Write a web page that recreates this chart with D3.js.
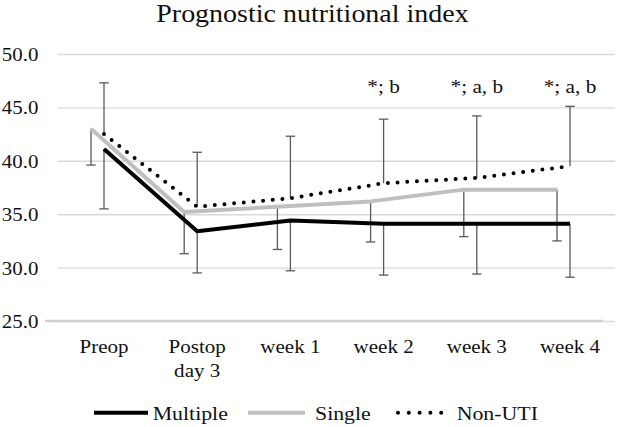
<!DOCTYPE html>
<html>
<head>
<meta charset="utf-8">
<script src="https://cdn.jsdelivr.net/npm/d3@7/dist/d3.min.js"></script>
<style>
  html, body { margin: 0; padding: 0; background: #fff; }
  svg { display: block; }
  svg text { font-family: "Liberation Serif", "Times New Roman", Times, "DejaVu Serif", serif !important; fill: #111; }
</style>
</head>
<body>
<svg id="chart" width="620" height="427"></svg>
<script>
// ---- Data ----
const categories = ["Preop", "Postop|day 3", "week 1", "week 2", "week 3", "week 4"];
const multipleMean = [41.1, 33.4, 34.4, 34.1, 34.1, 34.1];
const multipleSD   = [5.6, 3.9, 4.7, 4.8, 4.7, 5.0];
const singleMean   = [43.0, 35.2, 35.7, 36.2, 37.3, 37.3];
const singleSD     = [3.4, 3.9, 4.0, 3.8, 4.4, 4.8];
const nonUtiMean   = [42.5, 35.7, 36.5, 37.9, 38.4, 39.5];
const nonUtiSD     = [4.8, 5.1, 5.8, 6.0, 5.8, 5.6];
const annotations  = ["", "", "", "*; b", "*; a, b", "*; a, b"];
const yTicks       = [25, 30, 35, 40, 45, 50];
const seriesNames  = ["Multiple", "Single", "Non-UTI"];
const title        = "Prognostic nutritional index";

// ---- Layout ----
const FONT = '"Liberation Serif", "Times New Roman", Times, "DejaVu Serif", serif';
const svg = d3.select("#chart");
const SX = 1.12; // horizontal stretch of the source image
const plotLeft = 57.4, plotRight = 616.6, plotTop = 54, plotBottom = 321;

const x = d3.scaleBand().domain(categories).range([plotLeft, plotRight]);
const y = d3.scaleLinear().domain([25, 50]).range([plotBottom, plotTop]);
const cx = c => x(c) + x.bandwidth() / 2;
const singleOffset = -13;

function stretchedText(sel, px, py, str, size, anchor) {
  return sel.append("text")
    .attr("transform", `translate(${px},${py}) scale(${SX},1)`)
    .attr("text-anchor", anchor || "middle")
    .attr("font-family", FONT)
    .style("font-size", size + "px")
    .text(str);
}

// Title
stretchedText(svg, 312.5, 22, title, 25, "middle");

// Y axis grid
const yAxis = d3.axisLeft(y).tickValues(yTicks).tickFormat(d3.format(".1f"))
  .tickSizeInner(-(plotRight - plotLeft - 1.5)).tickSizeOuter(0).tickPadding(19);
const gy = svg.append("g").attr("transform", `translate(${plotLeft},0)`).call(yAxis)
  .attr("font-family", FONT);
gy.select(".domain").remove();
gy.selectAll(".tick line").attr("stroke", "#d9d9d9").attr("stroke-width", 1.4);
gy.selectAll(".tick text")
  .attr("x", null).attr("dy", null)
  .attr("transform", `translate(-19,6.5) scale(${SX},1)`)
  .attr("text-anchor", "end")
  .style("font-size", "18.7px").attr("fill", "#111");

// X axis line (thicker, at 25)
svg.append("line")
  .attr("x1", 45).attr("x2", 603)
  .attr("y1", y(25)).attr("y2", y(25))
  .attr("stroke", "#d0d0d0").attr("stroke-width", 2.4);

// X axis labels
const xAxis = d3.axisBottom(x).tickSize(0).tickFormat("");
const gx = svg.append("g").attr("transform", `translate(0,${plotBottom})`).call(xAxis)
  .attr("font-family", FONT);
gx.select(".domain").remove();
gx.selectAll(".tick").each(function(d) {
  const lines = d.split("|");
  const t = d3.select(this).append("text")
    .attr("transform", `translate(0,32) scale(${SX},1)`)
    .attr("text-anchor", "middle")
    .style("font-size", "18.8px").attr("fill", "#111");
  lines.forEach((l, i) => t.append("tspan").attr("x", 0).attr("dy", i === 0 ? 0 : 24).text(l));
});

// Error bars
const errColor = "#5a5a5a";
const cap = 4.7;
function errorBars(means, sds, offset, dir) {
  const g = svg.append("g");
  categories.forEach((c, i) => {
    const px = cx(c) + offset;
    const y0 = y(means[i]);
    const y1 = y(means[i] + dir * sds[i]);
    g.append("line").attr("x1", px).attr("x2", px).attr("y1", y0).attr("y2", y1)
      .attr("stroke", errColor).attr("stroke-width", 1.3);
    g.append("line").attr("x1", px - cap).attr("x2", px + cap).attr("y1", y1).attr("y2", y1)
      .attr("stroke", errColor).attr("stroke-width", 1.3);
  });
}
errorBars(singleMean, singleSD, singleOffset, -1);
errorBars(multipleMean, multipleSD, 0, -1);
errorBars(nonUtiMean, nonUtiSD, 0, 1);

// Lines
const line = off => d3.line().x((d, i) => cx(categories[i]) + off).y(d => y(d));
svg.append("path").datum(singleMean).attr("d", line(singleOffset))
  .attr("fill", "none").attr("stroke", "#bfbfbf").attr("stroke-width", 4)
  .attr("stroke-linejoin", "round");
svg.append("path").datum(multipleMean).attr("d", line(0))
  .attr("fill", "none").attr("stroke", "#000").attr("stroke-width", 4)
  .attr("stroke-linejoin", "round");
svg.append("path").datum(nonUtiMean).attr("d", line(0))
  .attr("fill", "none").attr("stroke", "#000").attr("stroke-width", 4)
  .attr("stroke-linecap", "round").attr("stroke-dasharray", "0 9.7");

// Annotations
categories.forEach((c, i) => {
  if (annotations[i]) stretchedText(svg, cx(c), 93, annotations[i], 19, "middle");
});

// Legend
const ly = 412.7;
const legendItems = [
  { name: seriesNames[0], x1: 94, x2: 148, tx: 152.7, stroke: "#000", dash: null, cap: "butt" },
  { name: seriesNames[1], x1: 248, x2: 305, tx: 315, stroke: "#bfbfbf", dash: null, cap: "butt" },
  { name: seriesNames[2], x1: 398, x2: 452, tx: 456.7, stroke: "#000", dash: "0 10.8", cap: "round" }
];
legendItems.forEach(it => {
  const l = svg.append("line").attr("x1", it.x1).attr("x2", it.x2).attr("y1", ly).attr("y2", ly)
    .attr("stroke", it.stroke).attr("stroke-width", 4).attr("stroke-linecap", it.cap);
  if (it.dash) l.attr("stroke-dasharray", it.dash);
  stretchedText(svg, it.tx, ly + 6.8, it.name, 19.5, "start");
});
</script>
</body>
</html>
